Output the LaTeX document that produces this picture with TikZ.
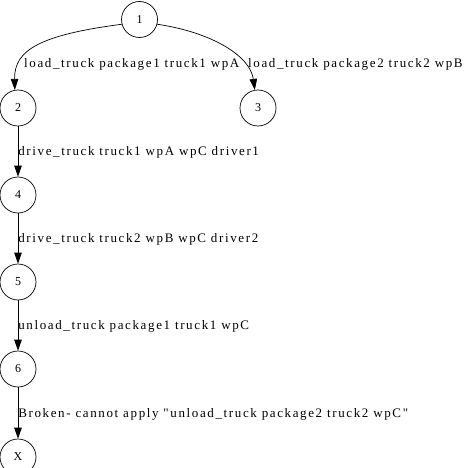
\documentclass[tikz,border=0pt]{standalone}
\usepackage{fontspec}
\setmainfont{Liberation Serif}
\newfontfamily\edgefont[LetterSpace=12.5]{Liberation Serif}
\usetikzlibrary{arrows.meta}
\tikzset{
    state/.style={draw, circle, line width=0.7pt, minimum size=36pt, inner sep=0pt, font=\fontsize{12}{12}\selectfont},
    act/.style={font=\edgefont\fontsize{13}{13}\selectfont, inner sep=0pt},
    edge/.style={line width=0.7pt, -{Triangle[length=11pt,width=7.5pt]}}
}
\begin{document}
\begin{tikzpicture}[x=1pt, y=-1pt]
    \useasboundingbox (0,0) rectangle (468,468);
    % states
    \node[state] (n1) at (139.5,19.5) {1};
    \node[state] (n2) at (18,108) {2};
    \node[state] (n3) at (258,108) {3};
    \node[state] (n4) at (18,195) {4};
    \node[state] (n5) at (18,282) {5};
    \node[state] (n6) at (18,369) {6};
    \node[state] (nx) at (18,457) {X};
    % branches from the root
    \draw[edge] (n1.195) .. controls (40,35) and (14,50) .. (n2.100);
    \draw[edge] (n1.345) .. controls (210,32) and (250,55) .. (n3.100);
    \node[act, anchor=base west] (l12) at (24,68) {load\_truck package1 truck1 wpA};
    \node[act, anchor=base west] (l13) at (248,68) {load\_truck package2 truck2 wpB};
    % the plan
    \draw[edge] (n2) -- node (l24) [act, anchor=base west, yshift=-4pt] {drive\_truck truck1 wpA wpC driver1} (n4);
    \draw[edge] (n4) -- node (l45) [act, anchor=base west, yshift=-4pt] {drive\_truck truck2 wpB wpC driver2} (n5);
    \draw[edge] (n5) -- node (l56) [act, anchor=base west, yshift=-4pt] {unload\_truck package1 truck1 wpC} (n6);
    \draw[edge] (n6) -- node (l6x) [act, anchor=base west, yshift=-4pt] {Broken- cannot apply "unload\_truck package2 truck2 wpC"} (nx);
\end{tikzpicture}
\end{document}
